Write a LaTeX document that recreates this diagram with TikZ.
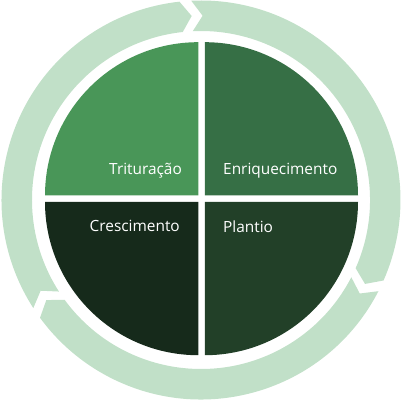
\documentclass[tikz,border=0pt]{standalone}
\usepackage{fontspec}
\setmainfont{Open Sans}
\usepackage{tikz}
\usetikzlibrary{calc}

\definecolor{ringgreen}{RGB}{193,224,200}
\definecolor{triturgreen}{RGB}{73,150,88}
\definecolor{enrichgreen}{RGB}{54,111,69}
\definecolor{growgreen}{RGB}{22,42,27}
\definecolor{plantgreen}{RGB}{34,64,40}

\begin{document}
\begin{tikzpicture}[x=1pt, y=1pt,
    ringarrow/.style={fill=ringgreen},
    stagetext/.style={text=white, inner sep=0pt, font=\fontsize{15.4}{18}\selectfont}]

                \useasboundingbox (0,0) rectangle (401,401);

                % Ring of arrows
                \coordinate (ring) at (201,201);
                \foreach \j in {94.5,-25.5,-145.5} {
                    \pgfmathsetmacro{\a}{\j-1.7}
                    \pgfmathsetmacro{\b}{\j-120+1.7}
                    \fill[ringarrow] ([shift={(ring)}]\a:199.5)
                        arc[start angle=\a, end angle=\b, radius=199.5]
                        -- ([shift={(ring)}]\b-3.3:184.25)
                        -- ([shift={(ring)}]\b:169)
                        arc[start angle=\b, end angle=\a, radius=169]
                        -- ([shift={(ring)}]\a-3.3:184.25) -- cycle;
                }

                % Quarters
                \coordinate (tl) at (198.25,205.55);
                \coordinate (tr) at (204.75,205.55);
                \coordinate (bl) at (198.25,199.05);
                \coordinate (br) at (204.75,199.05);
                \fill[triturgreen] (tl) -- ++(180:153.25) arc[start angle=180, end angle=90, radius=153.25] -- cycle;
                \fill[enrichgreen] (tr) -- ++(90:153.25) arc[start angle=90, end angle=0, radius=153.25] -- cycle;
                \fill[plantgreen] (br) -- ++(0:153.25) arc[start angle=0, end angle=-90, radius=153.25] -- cycle;
                \fill[growgreen] (bl) -- ++(-90:153.25) arc[start angle=-90, end angle=-180, radius=153.25] -- cycle;

                % Nodes
                \node[stagetext, anchor=base east] (trit) at (182,226) {Trituração};
                \node[stagetext, anchor=base west] (enri) at (223,226) {Enriquecimento};
                \node[stagetext, anchor=base east] (cres) at (180,169) {Crescimento};
                \node[stagetext, anchor=base west] (plan) at (223,168) {Plantio};

            \end{tikzpicture}
\end{document}
